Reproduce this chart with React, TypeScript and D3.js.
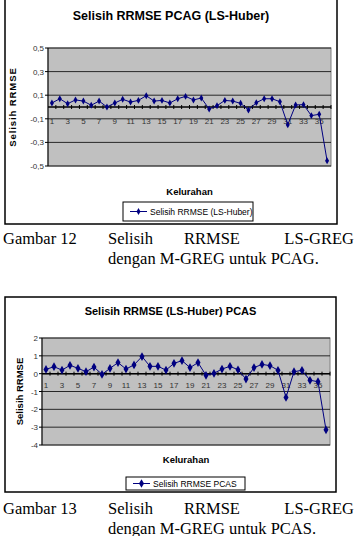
import React from 'react';
import * as d3 from 'd3';

// Kelurahan 1..36
const kelurahan = d3.range(1, 37);

// Selisih RRMSE PCAG (LS-Huber)
const pcagValues = [
  0.034, 0.07, 0.028, 0.06, 0.05, 0.015, 0.05, 0.0, 0.034, 0.065, 0.042, 0.056,
  0.096, 0.05, 0.056, 0.034, 0.07, 0.09, 0.06, 0.076, -0.017, 0.011, 0.056, 0.05,
  0.031, -0.025, 0.037, 0.07, 0.07, 0.045, -0.15, 0.017, 0.02, -0.073, -0.062, -0.455,
];

// Selisih RRMSE (LS-Huber) PCAS
const pcasValues = [
  0.24, 0.39, 0.2, 0.47, 0.3, 0.11, 0.37, -0.04, 0.3, 0.62, 0.26, 0.49,
  0.96, 0.41, 0.41, 0.2, 0.58, 0.73, 0.34, 0.62, -0.09, 0.02, 0.26, 0.41,
  0.22, -0.3, 0.34, 0.52, 0.45, 0.19, -1.33, 0.11, 0.19, -0.37, -0.45, -3.15,
];

const pcagTicks = [-0.5, -0.3, -0.1, 0.1, 0.3, 0.5];
const pcasTicks = [-4, -3, -2, -1, 0, 1, 2];

const sans = '"Liberation Sans", Arial, sans-serif';
const serif = '"Liberation Serif", "Times New Roman", serif';

type ChartProps = {
  values: number[];
  ticks: number[];
  domain: [number, number];
  fmt: (v: number) => string;
  box: { x: number; y: number; w: number; h: number };
  plot: { left: number; right: number; top: number; bottom: number };
  title: string;
  titleY: number;
  titleSize: number;
  yTitleX: number;
  yTitleSpacing: number;
  xTitleY: number;
  xLabelY: number;
  legend: { x: number; y: number; w: number; h: number; label: string };
  markerSize: number;
};

const Chart = (p: ChartProps) => {
  const x = d3.scaleBand<number>().domain(kelurahan).range([p.plot.left, p.plot.right]);
  const y = d3.scaleLinear().domain(p.domain).range([p.plot.bottom, p.plot.top]);
  const cx = (d: number) => (x(d) as number) + x.bandwidth() / 2;
  const line = d3
    .line<number>()
    .x((_, i) => cx(kelurahan[i]))
    .y((v) => y(v));
  const marker = d3.symbol(d3.symbolDiamond, p.markerSize)() as string;
  const y0 = y(0);
  const midX = (p.plot.left + p.plot.right) / 2;
  const midY = (p.plot.top + p.plot.bottom) / 2;

  return (
    <g>
      <rect x={p.box.x} y={p.box.y} width={p.box.w} height={p.box.h} fill="#fff" stroke="#000" strokeWidth={1.5} />
      <text x={p.box.x + p.box.w / 2} y={p.titleY} textAnchor="middle" fontFamily={sans} fontWeight="bold" fontSize={p.titleSize} fill="#000">
        {p.title}
      </text>
      <rect
        x={p.plot.left}
        y={p.plot.top}
        width={p.plot.right - p.plot.left}
        height={p.plot.bottom - p.plot.top}
        fill="#c0c0c0"
        stroke="#808080"
        strokeWidth={1}
      />
      {p.ticks.map((t) => (
        <g key={t}>
          <line x1={p.plot.left} x2={p.plot.right} y1={y(t)} y2={y(t)} stroke="#000" strokeWidth={0.8} />
          <line x1={p.plot.left - 3} x2={p.plot.left} y1={y(t)} y2={y(t)} stroke="#000" strokeWidth={1} />
          <text x={p.plot.left - 4} y={y(t) + 3} textAnchor="end" fontFamily={sans} fontSize={8} fill="#333">
            {p.fmt(t)}
          </text>
        </g>
      ))}
      <line x1={p.plot.left} x2={p.plot.left} y1={p.plot.top} y2={p.plot.bottom} stroke="#000" strokeWidth={1} />
      {/* category axis at zero */}
      <line x1={p.plot.left} x2={p.plot.right} y1={y0} y2={y0} stroke="#000" strokeWidth={1.5} />
      {kelurahan.map((d) => (
        <line key={'t' + d} x1={(x(d) as number) + x.bandwidth()} x2={(x(d) as number) + x.bandwidth()} y1={y0 - 2} y2={y0 + 2} stroke="#000" strokeWidth={1} />
      ))}
      {kelurahan
        .filter((d) => d % 2 === 1)
        .map((d) => (
          <text key={'l' + d} x={cx(d)} y={p.xLabelY} textAnchor="middle" fontFamily={sans} fontSize={8} fill="#333">
            {d}
          </text>
        ))}
      <path d={line(p.values) as string} fill="none" stroke="#000080" strokeWidth={1} />
      {p.values.map((v, i) => (
        <path key={'m' + i} d={marker} transform={`translate(${cx(kelurahan[i])},${y(v)})`} fill="#000080" />
      ))}
      <text
        transform={`translate(${p.yTitleX},${midY}) rotate(-90)`}
        textAnchor="middle"
        fontFamily={sans}
        fontWeight="bold"
        fontSize={9.5}
        letterSpacing={p.yTitleSpacing}
        fill="#000"
      >
        Selisih RRMSE
      </text>
      <text x={midX} y={p.xTitleY} textAnchor="middle" fontFamily={sans} fontWeight="bold" fontSize={9.5} fill="#000">
        Kelurahan
      </text>
      <rect x={p.legend.x} y={p.legend.y} width={p.legend.w} height={p.legend.h} fill="#fff" stroke="#000" strokeWidth={1} />
      <line x1={p.legend.x + 7} x2={p.legend.x + 24} y1={p.legend.y + p.legend.h / 2} y2={p.legend.y + p.legend.h / 2} stroke="#000080" strokeWidth={1} />
      <path d={marker} transform={`translate(${p.legend.x + 15.5},${p.legend.y + p.legend.h / 2})`} fill="#000080" />
      <text x={p.legend.x + 27} y={p.legend.y + p.legend.h / 2 + 3} fontFamily={sans} fontSize={8.5} fill="#000">
        {p.legend.label}
      </text>
    </g>
  );
};

const Caption = ({ y, num, tail }: { y: number; num: string; tail: string }) => (
  <g fontFamily={serif} fontSize={16.5} fill="#000">
    <text x={3} y={y}>{`Gambar ${num}`}</text>
    <text x={108} y={y}>Selisih</text>
    <text x={184} y={y}>RRMSE</text>
    <text x={354} y={y} textAnchor="end">LS-GREG</text>
    <text x={108} y={y + 19.5}>{tail}</text>
  </g>
);

const commaFmt = (v: number) => d3.format('.1f')(v).replace('.', ',').replace('−', '-');
const intFmt = (v: number) => String(v);

export default function App() {
  return (
    <div style={{ position: 'absolute', left: 0, top: 0 }}>
      <svg width={360} height={536} style={{ display: 'block', background: '#fff' }}>
        <Chart
          values={pcagValues}
          ticks={pcagTicks}
          domain={[-0.5, 0.5]}
          fmt={commaFmt}
          box={{ x: 5, y: -2, w: 332, h: 226 }}
          plot={{ left: 48, right: 331, top: 48, bottom: 166 }}
          title="Selisih RRMSE PCAG (LS-Huber)"
          titleY={20}
          titleSize={12.5}
          yTitleX={16}
          yTitleSpacing={0.9}
          xTitleY={195}
          xLabelY={124}
          legend={{ x: 123, y: 202, w: 130, h: 19, label: 'Selisih RRMSE (LS-Huber)' }}
          markerSize={14}
        />
        <Caption y={244} num="12" tail="dengan M-GREG untuk PCAG." />
        <Chart
          values={pcasValues}
          ticks={pcasTicks}
          domain={[-4, 2]}
          fmt={intFmt}
          box={{ x: 5, y: 297, w: 331, h: 195 }}
          plot={{ left: 42, right: 330, top: 338, bottom: 445 }}
          title="Selisih RRMSE (LS-Huber) PCAS"
          titleY={315}
          titleSize={11}
          yTitleX={23}
          yTitleSpacing={0}
          xTitleY={463}
          xLabelY={388}
          legend={{ x: 126, y: 477, w: 119, h: 13, label: 'Selisih RRMSE PCAS' }}
          markerSize={22}
        />
        <Caption y={514} num="13" tail="dengan M-GREG untuk PCAS." />
      </svg>
    </div>
  );
}
